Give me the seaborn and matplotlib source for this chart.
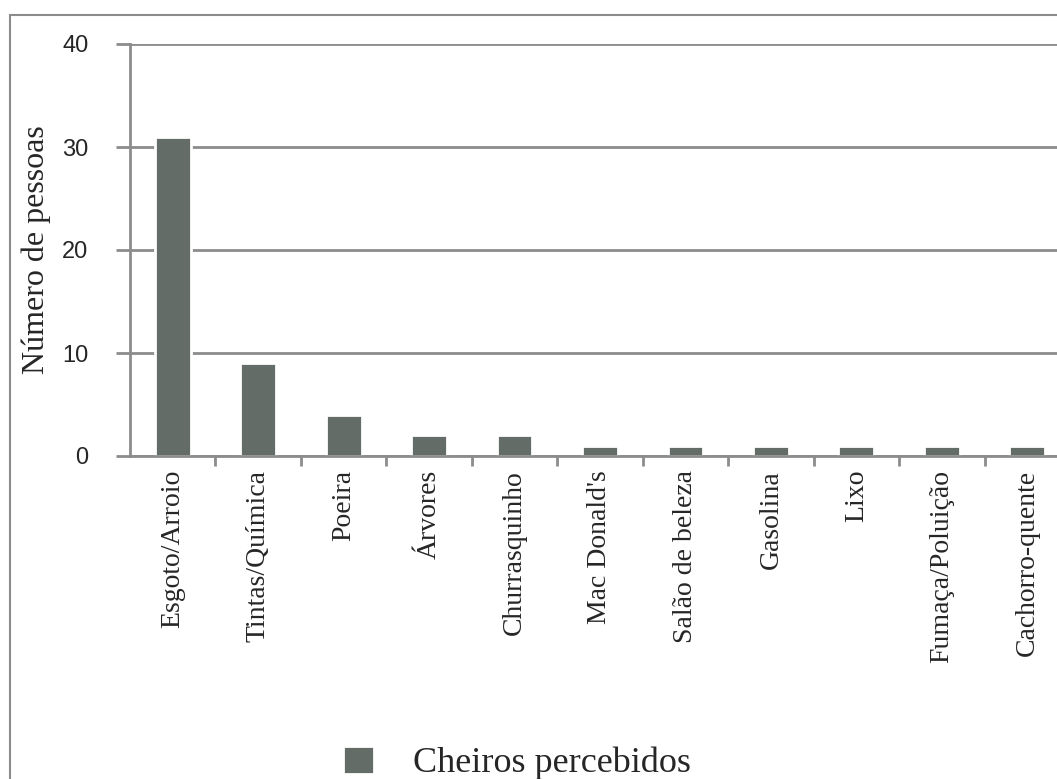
import matplotlib
matplotlib.use("Agg")
import matplotlib.pyplot as plt
import seaborn as sns
import pandas as pd
from matplotlib.patches import Rectangle

# Cheiros percebidos pelos entrevistados
categorias = ["Esgoto/Arroio", "Tintas/Química", "Poeira", "Árvores", "Churrasquinho",
              "Mac Donald's", "Salão de beleza", "Gasolina", "Lixo",
              "Fumaça/Poluição", "Cachorro-quente"]
pessoas = [31, 9, 4, 2, 2, 1, 1, 1, 1, 1, 1]
yticks = [0, 10, 20, 30, 40]

df = pd.DataFrame({"Cheiro": categorias, "Pessoas": pessoas})

sns.set_style("white")
grey = "#8c8c8c"
bar_color = "#646c68"

fig = plt.figure(figsize=(10.57, 7.79), dpi=100)
ax = fig.add_axes([130 / 1057, 1 - 456 / 779, 940 / 1057, 412 / 779])

sns.barplot(data=df, x="Cheiro", y="Pessoas", color=bar_color, width=0.42,
            edgecolor="white", linewidth=2, saturation=1, label="Cheiros percebidos", ax=ax)

ax.set_xlim(-0.5, len(categorias) - 0.5)
ax.set_ylim(0, 40)
ax.set_yticks(yticks)
ax.yaxis.grid(True, color=grey, linewidth=2)
ax.set_axisbelow(True)
for s in ["top", "right"]:
    ax.spines[s].set_visible(False)
for s in ["left", "bottom"]:
    ax.spines[s].set_color(grey)
    ax.spines[s].set_linewidth(2)

ax.tick_params(axis="y", direction="out", length=10, width=2, color=grey,
               labelsize=17, pad=20, left=True)
for lbl in ax.get_yticklabels():
    lbl.set_family("Liberation Sans")

ax.set_xticks(range(len(categorias)))
ax.set_xticklabels(categorias, rotation=90, family="Liberation Serif", fontsize=20)
ax.tick_params(axis="x", length=0, pad=10)
ax.set_xticks([i + 0.5 for i in range(len(categorias) - 1)], minor=True)
ax.tick_params(axis="x", which="minor", direction="out", length=7, width=2,
               color=grey, bottom=True)

ax.set_xlabel("")
ax.set_ylabel("Número de pessoas", family="Liberation Serif", fontsize=23, labelpad=8)

# moldura externa do gráfico
fig.patches.append(Rectangle((10 / 1057, -0.05), 1.2, 1 - 15 / 779 + 0.05,
                             transform=fig.transFigure, fill=False,
                             edgecolor=grey, linewidth=1.5, zorder=0))

if ax.get_legend() is not None:
    ax.get_legend().remove()
handles, labels = ax.get_legend_handles_labels()
fig.legend(handles[:1], labels[:1], loc="center", bbox_to_anchor=(517 / 1057, 1 - 763 / 779),
           frameon=False, prop={"family": "Liberation Serif", "size": 26},
           handlelength=0.85, handleheight=0.85, handletextpad=1.1)

fig.savefig("out.png", dpi=100)
